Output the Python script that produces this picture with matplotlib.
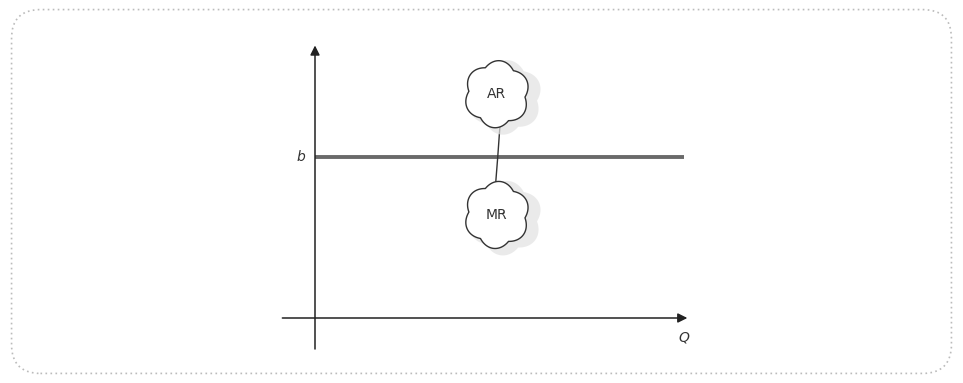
import numpy as np
import matplotlib.pyplot as plt
from matplotlib.patches import FancyBboxPatch, Polygon

# Diagram values (price level b, data units)
b = 1.0
q_max = 2.29
axis_top = 1.71
labels = ['AR', 'MR']
cloud_x = [1.13, 1.13]
cloud_y = [1.39, 0.64]

W, H = 963, 383
ox, oy, ppu = 315, 318, 161  # origin in pixels, pixels per unit

fig = plt.figure(figsize=(W / 100, H / 100), dpi=100)
ax = fig.add_axes([0, 0, 1, 1])
ax.set_xlim(-ox / ppu, (W - ox) / ppu)
ax.set_ylim(-(H - oy) / ppu, oy / ppu)
ax.axis('off')

# rounded dotted frame
frame = FancyBboxPatch((0.012, 0.025), 0.976, 0.95, boxstyle='round,pad=0,rounding_size=0.03',
                       transform=fig.transFigure, fill=False, ec='#bbbbbb', lw=1.2, ls=(0, (1, 2)),
                       mutation_aspect=W / H)
fig.patches.append(frame)

# axes with arrows
ax.annotate('', xy=(0, axis_top), xytext=(0, -0.21),
            arrowprops=dict(arrowstyle='-|>', color='#222222', lw=1.1, mutation_scale=14))
ax.annotate('', xy=(2.33, 0), xytext=(-0.22, 0),
            arrowprops=dict(arrowstyle='-|>', color='#222222', lw=1.1, mutation_scale=14))

# horizontal demand line at b
ax.plot([0, q_max], [b, b], color='#6a6a6a', lw=2.8, solid_capstyle='butt')
ax.text(-0.09, b, 'b', style='italic', fontsize=10, ha='center', va='center', color='#333333')
ax.text(2.29, -0.12, 'Q', style='italic', fontsize=10, ha='center', va='center', color='#333333')

# connector from AR cloud through line to MR cloud
ax.plot([1.15, 1.135, 1.12], [1.21, b, 0.81], color='#333333', lw=1.0, zorder=2)


def cloud(cx, cy, rx, ry, n=6, a=0.16):
    t = np.linspace(0, 2 * np.pi, 400)
    r = 1 + a * np.abs(np.sin(n * t / 2 + 0.3))
    return np.column_stack([cx + rx * r * np.cos(t), cy + ry * r * np.sin(t)])


for lab, cx, cy in zip(labels, cloud_x, cloud_y):
    shadow = cloud(cx + 0.05, cy - 0.02, 0.2, 0.2)
    ax.add_patch(Polygon(shadow, closed=True, fc='#e2e2e2', ec='none', alpha=0.7, zorder=3))
    pts = cloud(cx, cy, 0.175, 0.18)
    ax.add_patch(Polygon(pts, closed=True, fc='white', ec='#333333', lw=1.0, zorder=4))
    ax.text(cx, cy, lab, fontsize=10, ha='center', va='center', color='#333333', zorder=5)

fig.savefig('out.png', dpi=100)
